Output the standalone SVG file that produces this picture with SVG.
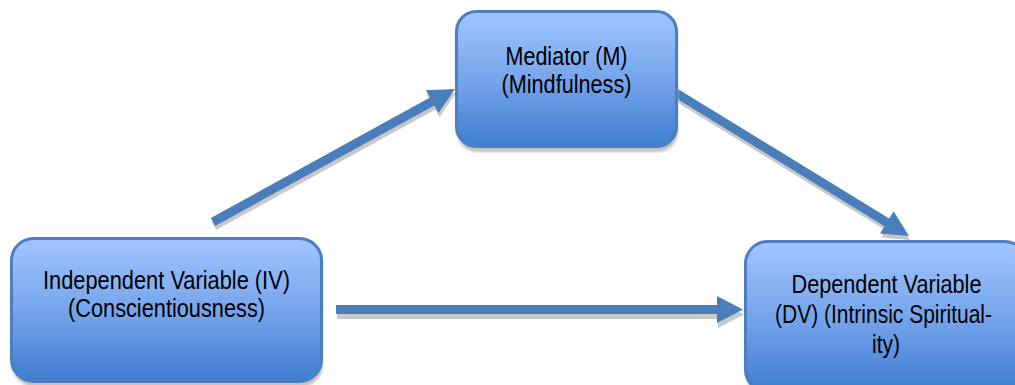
<svg xmlns="http://www.w3.org/2000/svg" width="1015" height="385" viewBox="0 0 1015 385">
  <defs>
    <linearGradient id="boxFill" x1="0" y1="0" x2="0" y2="1">
      <stop offset="0" stop-color="#a2c5ff"/>
      <stop offset="0.5" stop-color="#76a5ec"/>
      <stop offset="1" stop-color="#3f7dcf"/>
    </linearGradient>
    <filter id="soft" x="-10%" y="-10%" width="120%" height="130%">
      <feGaussianBlur stdDeviation="1"/>
    </filter>
  </defs>
  <style>
    .box { fill: url(#boxFill); stroke: #4c7fc0; stroke-width: 3; }
    .boxShadow { fill: #c4c4c4; filter: url(#soft); }
    .arrow { fill: #4a7ebb; }
    .arrowShadow { fill: #c8c8c8; }
    .label { font-family: "Liberation Sans", Arial, sans-serif; font-size: 25.5px; fill: #000; text-anchor: middle; }
  </style>
  <rect width="1015" height="385" fill="#ffffff"/>

  <g id="connectors">
    <!-- IV -> M -->
    <g transform="translate(1,4)">
      <polygon class="arrowShadow" transform="translate(213,222) rotate(-28.79)" points="0,-4.5 250.1,-4.5 250.1,-13 276.1,0 250.1,13 250.1,4.5 0,4.5"/>
    </g>
    <polygon class="arrow" transform="translate(213,222) rotate(-28.79)" points="0,-4.5 250.1,-4.5 250.1,-13 276.1,0 250.1,13 250.1,4.5 0,4.5"/>
    <!-- M -> DV -->
    <g transform="translate(1,4)">
      <polygon class="arrowShadow" transform="translate(676,93) rotate(31.54)" points="0,-4.5 247.4,-4.5 247.4,-13 273.4,0 247.4,13 247.4,4.5 0,4.5"/>
    </g>
    <polygon class="arrow" transform="translate(676,93) rotate(31.54)" points="0,-4.5 247.4,-4.5 247.4,-13 273.4,0 247.4,13 247.4,4.5 0,4.5"/>
    <!-- IV -> DV -->
    <g transform="translate(1,5)">
      <polygon class="arrowShadow" transform="translate(336,309.5)" points="0,-4.5 381,-4.5 381,-13.5 407,0 381,13.5 381,4.5 0,4.5"/>
    </g>
    <polygon class="arrow" transform="translate(336,309.5)" points="0,-4.5 381,-4.5 381,-13.5 407,0 381,13.5 381,4.5 0,4.5"/>
  </g>

  <g id="node-mediator">
    <rect class="boxShadow" x="457" y="15" width="221" height="137" rx="20"/>
    <rect class="box" x="456.5" y="11.5" width="220" height="135" rx="20"/>
    <text class="label" x="566.5" y="65" textLength="122" lengthAdjust="spacingAndGlyphs">Mediator (M)</text>
    <text class="label" x="566.5" y="93" textLength="130" lengthAdjust="spacingAndGlyphs">(Mindfulness)</text>
  </g>

  <g id="node-iv">
    <rect class="boxShadow" x="12" y="242" width="311" height="145" rx="22"/>
    <rect class="box" x="11.5" y="238.5" width="310" height="143" rx="22"/>
    <text class="label" x="166.5" y="289" textLength="247" lengthAdjust="spacingAndGlyphs">Independent Variable (IV)</text>
    <text class="label" x="166.5" y="317" textLength="197" lengthAdjust="spacingAndGlyphs">(Conscientiousness)</text>
  </g>

  <g id="node-dv">
    <rect class="boxShadow" x="746" y="245" width="282" height="152" rx="22"/>
    <rect class="box" x="745.5" y="241.5" width="281" height="150" rx="22"/>
    <text class="label" x="886.5" y="293" textLength="190" lengthAdjust="spacingAndGlyphs">Dependent Variable</text>
    <text class="label" x="883.5" y="323" textLength="217" lengthAdjust="spacingAndGlyphs">(DV) (Intrinsic Spiritual-</text>
    <text class="label" x="886" y="353" textLength="28" lengthAdjust="spacingAndGlyphs">ity)</text>
  </g>
</svg>
